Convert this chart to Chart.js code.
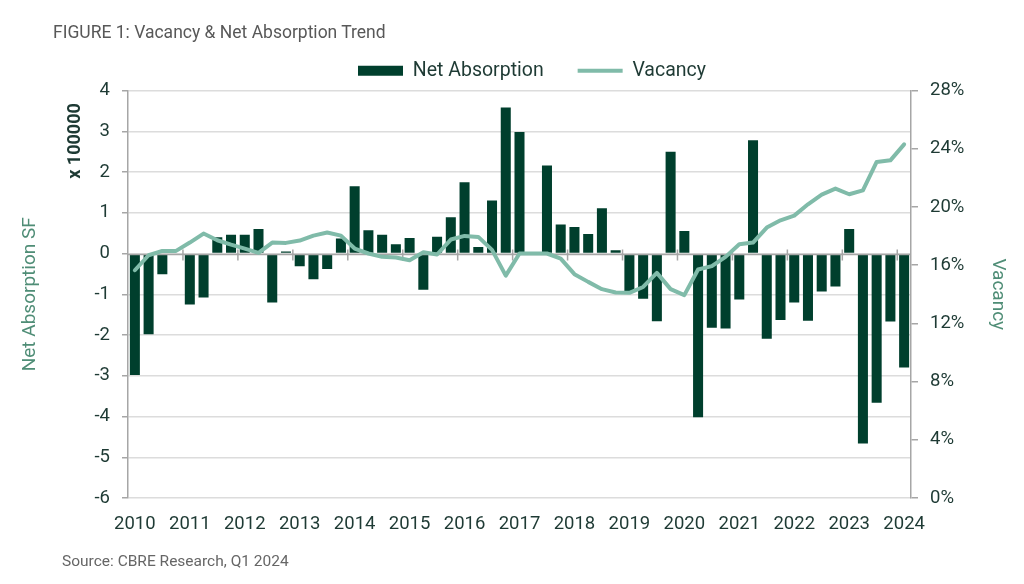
<!DOCTYPE html>
<html>
<head>
<meta charset="utf-8">
<title>Vacancy &amp; Net Absorption Trend</title>
<script src="https://cdn.jsdelivr.net/npm/chart.js@4.4.1/dist/chart.umd.min.js"></script>
<style>
  body { margin: 0; background: #fff; font-family: Roboto, sans-serif; }
  #wrap { position: relative; width: 1024px; height: 584px; overflow: hidden; }
  #chart { position: absolute; left: 0; top: 0; }
  .title { position: absolute; left: 53px; top: 22px; font-size: 17.5px; color: #585858; }
  .source { position: absolute; left: 62px; top: 552px; font-size: 15.5px; color: #666; }
</style>
</head>
<body>
<div id="wrap">
  <canvas id="chart" width="1024" height="584"></canvas>
  <div class="title">FIGURE 1: Vacancy &amp; Net Absorption Trend</div>
  <div class="source">Source: CBRE Research, Q1 2024</div>
</div>
<script>
// quarters 2010 Q1 .. 2024 Q1
const categories = [
  '2010 Q1', '2010 Q2', '2010 Q3', '2010 Q4',
  '2011 Q1', '2011 Q2', '2011 Q3', '2011 Q4',
  '2012 Q1', '2012 Q2', '2012 Q3', '2012 Q4',
  '2013 Q1', '2013 Q2', '2013 Q3', '2013 Q4',
  '2014 Q1', '2014 Q2', '2014 Q3', '2014 Q4',
  '2015 Q1', '2015 Q2', '2015 Q3', '2015 Q4',
  '2016 Q1', '2016 Q2', '2016 Q3', '2016 Q4',
  '2017 Q1', '2017 Q2', '2017 Q3', '2017 Q4',
  '2018 Q1', '2018 Q2', '2018 Q3', '2018 Q4',
  '2019 Q1', '2019 Q2', '2019 Q3', '2019 Q4',
  '2020 Q1', '2020 Q2', '2020 Q3', '2020 Q4',
  '2021 Q1', '2021 Q2', '2021 Q3', '2021 Q4',
  '2022 Q1', '2022 Q2', '2022 Q3', '2022 Q4',
  '2023 Q1', '2023 Q2', '2023 Q3', '2023 Q4',
  '2024 Q1'
];

// net absorption, SF x 100000
const netAbsorption = [
  -2.98, -1.98, -0.51, 0.02,
  -1.25, -1.08, 0.40, 0.46,
  0.46, 0.60, -1.20, 0.05,
  -0.31, -0.63, -0.38, 0.37,
  1.65, 0.57, 0.46, 0.23,
  0.38, -0.89, 0.41, 0.89,
  1.75, 0.16, 1.30, 3.58,
  2.98, 0.00, 2.16, 0.71,
  0.65, 0.48, 1.11, 0.08,
  -0.93, -1.11, -1.66, 2.50,
  0.55, -4.02, -1.82, -1.84,
  -1.13, 2.78, -2.09, -1.63,
  -1.20, -1.65, -0.93, -0.81,
  0.60, -4.66, -3.66, -1.67,
  -2.80
];

// vacancy rate, %
const vacancy = [
  15.65, 16.68, 16.98, 16.98,
  17.55, 18.17, 17.71, 17.41,
  17.14, 16.84, 17.55, 17.53,
  17.69, 18.03, 18.24, 18.03,
  17.14, 16.80, 16.57, 16.52,
  16.34, 16.89, 16.73, 17.76,
  18.01, 17.94, 17.05, 15.28,
  16.80, 16.80, 16.80, 16.45,
  15.38, 14.85, 14.35, 14.12,
  14.10, 14.50, 15.47, 14.35,
  13.94, 15.70, 15.93, 16.57,
  17.44, 17.55, 18.58, 19.08,
  19.40, 20.18, 20.85, 21.26,
  20.87, 21.14, 23.09, 23.20,
  24.30
];

const leftTicks = { min: -6, max: 4, step: 1 };
const rightTicks = { min: 0, max: 28, step: 4 };

const darkGreen = '#003f2d';
const celadon = '#80bba9';
const teal = '#4f8d76';
const textDark = '#1e3a34';
const axisGray = '#a6a6a6';
const gridGray = '#dcdcdc';
const tickFont = { family: 'Roboto', size: 18.5 };

// zero line with year tick marks, drawn over the bars but under the line
const zeroAxis = {
  id: 'zeroAxis',
  afterDatasetDraw(chart, args) {
    if (args.index !== 0) return;
    const { ctx, chartArea, scales: { x, y } } = chart;
    const y0 = Math.round(y.getPixelForValue(0)) + 0.5;
    ctx.save();
    ctx.strokeStyle = axisGray;
    ctx.lineWidth = 1.5;
    ctx.beginPath();
    ctx.moveTo(chartArea.left, y0);
    ctx.lineTo(chartArea.right, y0);
    for (let i = 4; i < categories.length; i += 4) {
      const px = (x.getPixelForValue(i - 1) + x.getPixelForValue(i)) / 2;
      ctx.moveTo(px, y0 - 5);
      ctx.lineTo(px, y0 + 6);
    }
    ctx.stroke();
    ctx.restore();
  },
  afterDraw(chart) {
    const ctx = chart.ctx;
    ctx.save();
    ctx.translate(75, 141);
    ctx.rotate(-Math.PI / 2);
    ctx.font = 'bold 18px Roboto';
    ctx.fillStyle = textDark;
    ctx.textAlign = 'center';
    ctx.textBaseline = 'middle';
    ctx.fillText('x 100000', 0, 0);
    ctx.restore();
  }
};

new Chart(document.getElementById('chart'), {
  type: 'bar',
  data: {
    labels: categories,
    datasets: [
      {
        type: 'bar',
        label: 'Net Absorption',
        data: netAbsorption,
        backgroundColor: darkGreen,
        borderWidth: 0,
        categoryPercentage: 1,
        barPercentage: 0.73,
        yAxisID: 'y',
        order: 1
      },
      {
        type: 'line',
        label: 'Vacancy',
        data: vacancy,
        borderColor: celadon,
        backgroundColor: celadon,
        borderWidth: 4,
        borderCapStyle: 'round',
        borderJoinStyle: 'round',
        pointRadius: 0,
        tension: 0,
        yAxisID: 'y1',
        order: 0
      }
    ]
  },
  options: {
    responsive: false,
    animation: false,
    layout: { padding: { left: 40, right: 0, top: 27, bottom: 0 } },
    plugins: {
      tooltip: { enabled: false },
      legend: {
        position: 'top',
        maxHeight: 67,
        labels: {
          usePointStyle: true,
          pointStyleWidth: 45,
          boxHeight: 10,
          padding: 34,
          color: textDark,
          font: { family: 'Roboto', size: 19.5 },
          sort: (a, b) => a.datasetIndex - b.datasetIndex,
          generateLabels(chart) {
            const items = Chart.defaults.plugins.legend.labels.generateLabels(chart);
            items.forEach(it => {
              it.pointStyle = it.datasetIndex === 0 ? 'rect' : 'line';
            });
            return items;
          }
        }
      }
    },
    scales: {
      x: {
        grid: { display: false, drawTicks: false },
        border: { display: false },
        ticks: {
          autoSkip: false,
          maxRotation: 0,
          padding: 15,
          color: textDark,
          font: tickFont,
          callback(val) {
            const lbl = this.getLabelForValue(val);
            return lbl.endsWith('Q1') ? lbl.slice(0, 4) : '';
          }
        },
        afterFit(scale) { scale.height = 86; }
      },
      y: {
        position: 'left',
        min: leftTicks.min,
        max: leftTicks.max,
        ticks: { stepSize: leftTicks.step, padding: 12, color: textDark, font: tickFont },
        grid: { color: gridGray, lineWidth: 1.5, tickLength: 6, tickColor: axisGray },
        border: { display: true, color: axisGray, width: 1.5 },
        title: {
          display: true,
          text: 'Net Absorption SF',
          color: teal,
          font: { family: 'Roboto', size: 19 },
          padding: { top: -21, bottom: 0 }
        },
        afterFit(scale) { scale.width = 88; }
      },
      y1: {
        position: 'right',
        min: rightTicks.min,
        max: rightTicks.max,
        ticks: {
          stepSize: rightTicks.step,
          padding: 12,
          color: textDark,
          font: tickFont,
          callback: v => v + '%'
        },
        grid: { drawOnChartArea: false, tickLength: 7, tickColor: axisGray, lineWidth: 1.5 },
        border: { display: true, color: axisGray, width: 1.5 },
        title: {
          display: true,
          text: 'Vacancy',
          color: teal,
          font: { family: 'Roboto', size: 19 },
          padding: { top: 15, bottom: 0 }
        },
        afterFit(scale) { scale.width = 113; }
      }
    }
  },
  plugins: [zeroAxis]
});
</script>
</body>
</html>
